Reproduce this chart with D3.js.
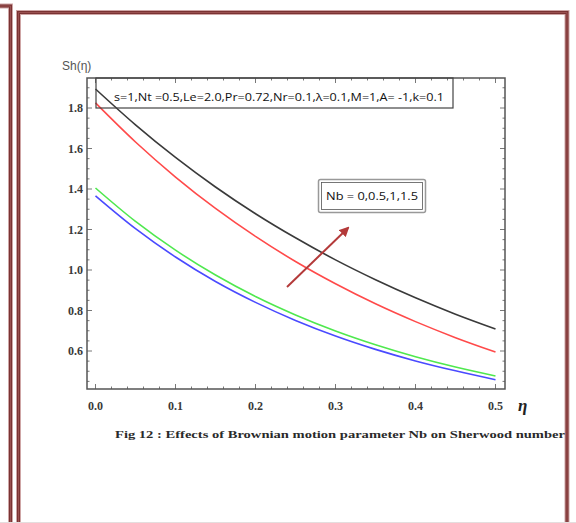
<!DOCTYPE html>
<html><head><meta charset="utf-8">
<script src="https://cdn.jsdelivr.net/npm/d3@7"></script>
<style>html,body{margin:0;padding:0;background:#fff;}svg{display:block;}</style>
</head><body>
<script>
const eta = [0,0.05,0.1,0.15,0.2,0.25,0.3,0.35,0.4,0.45,0.5];
const shNb0  = [1.366,1.204,1.064,0.943,0.840,0.751,0.674,0.608,0.551,0.502,0.458];
const shNb05 = [1.405,1.240,1.098,0.975,0.869,0.778,0.699,0.631,0.572,0.521,0.477];
const shNb1  = [1.825,1.632,1.459,1.304,1.166,1.042,0.932,0.833,0.745,0.666,0.595];
const shNb15 = [1.894,1.717,1.556,1.410,1.278,1.159,1.050,0.952,0.863,0.782,0.709];
const seriesNames = ["Nb=0","Nb=0.5","Nb=1","Nb=1.5"];
const seriesColors = ["#4a4aff","#4fe84f","#ff4a4a","#3a3a3a"];
const xTicks = [0,0.1,0.2,0.3,0.4,0.5];
const xTickLabels = ["0.0","0.1","0.2","0.3","0.4","0.5"];
const yTicks = [0.6,0.8,1.0,1.2,1.4,1.6,1.8];
const yTickLabels = ["0.6","0.8","1.0","1.2","1.4","1.6","1.8"];
const paramText = "s=1,Nt =0.5,Le=2.0,Pr=0.72,Nr=0.1,\u03bb=0.1,M=1,A= -1,k=0.1";
const nbText = "Nb = 0,0.5,1,1.5";
const caption = "Fig 12 : Effects of Brownian motion parameter Nb on Sherwood number";

const W=576,H=523;
const svg=d3.select("body").append("svg").attr("width",W).attr("height",H);

// outer decorative frames
const frameCol="#7a3333";
function frameLine(d){
  svg.append("path").attr("d",d).attr("fill","none").attr("stroke","#cfa6a6").attr("stroke-width",5);
  svg.append("path").attr("d",d).attr("fill","none").attr("stroke",frameCol).attr("stroke-width",3);
  svg.append("path").attr("d",d).attr("fill","none").attr("stroke","#9a5050").attr("stroke-width",1);
}
frameLine("M0,6 H10.5 V530");
frameLine("M18.5,530 V12.5 H567 V530");
svg.append("line").attr("x1",0).attr("x2",W).attr("y1",522.5).attr("y2",522.5).attr("stroke","#e4dede").attr("stroke-width",1);

const x=d3.scaleLinear().domain([0,0.5]).range([95.5,495.5]);
const y=d3.scaleLinear().domain([0.6,1.8]).range([351,108]);
const L=87,R=505,T=78,B=389;

// ticks
const g=svg.append("g");
const minorX=d3.range(0,0.5001,0.02);
const minorY=d3.range(0.45,1.951,0.05);
const tickCol="#555";
minorX.forEach(v=>{
  const major=xTicks.some(t=>Math.abs(t-v)<1e-6);
  const len=major?5:2.5;
  g.append("line").attr("x1",x(v)).attr("x2",x(v)).attr("y1",B).attr("y2",B-len).attr("stroke",tickCol).attr("stroke-width",0.8);
  g.append("line").attr("x1",x(v)).attr("x2",x(v)).attr("y1",T).attr("y2",T+len).attr("stroke",tickCol).attr("stroke-width",0.8);
});
minorY.forEach(v=>{
  const yy=y(v); if(yy<T||yy>B) return;
  const major=yTicks.some(t=>Math.abs(t-v)<1e-6);
  const len=major?5:2.5;
  g.append("line").attr("x1",L).attr("x2",L+len).attr("y1",yy).attr("y2",yy).attr("stroke",tickCol).attr("stroke-width",0.8);
  g.append("line").attr("x1",R).attr("x2",R-len).attr("y1",yy).attr("y2",yy).attr("stroke",tickCol).attr("stroke-width",0.8);
});
// plot frame
svg.append("rect").attr("x",L).attr("y",T).attr("width",R-L).attr("height",B-T).attr("fill","none").attr("stroke","#555").attr("stroke-width",1.5);

// tick labels
xTicks.forEach((v,i)=>{
  svg.append("text").attr("x",x(v)).attr("y",410).attr("text-anchor","middle")
    .attr("font-family","Liberation Serif").attr("font-weight","bold").attr("font-size",12).attr("fill","#3a3a3a").text(xTickLabels[i]);
});
yTicks.forEach((v,i)=>{
  svg.append("text").attr("x",83).attr("y",y(v)+4).attr("text-anchor","end")
    .attr("font-family","Liberation Serif").attr("font-weight","bold").attr("font-size",12).attr("fill","#3a3a3a").text(yTickLabels[i]);
});
svg.append("text").attr("x",62).attr("y",70).attr("font-family","Liberation Sans").attr("font-size",12).attr("fill","#555").text("Sh(\u03b7)");
svg.append("text").attr("x",518).attr("y",411).attr("font-family","Liberation Serif").attr("font-weight","bold").attr("font-style","italic").attr("font-size",17).attr("fill","#222").text("\u03b7");

// curves
const line=d3.line().x((d,i)=>x(eta[i])).y(d=>y(d)).curve(d3.curveCatmullRom);
[shNb0,shNb05,shNb1,shNb15].forEach((s,i)=>{
  svg.append("path").attr("d",line(s)).attr("fill","none").attr("stroke",seriesColors[i]).attr("stroke-width",1.6);
});

// parameter box
svg.append("rect").attr("x",96).attr("y",T).attr("width",357).attr("height",30).attr("fill","none").attr("stroke","#444").attr("stroke-width",1.2);
svg.append("text").attr("x",279).attr("y",101).attr("text-anchor","middle").attr("font-family","Open Sans").attr("font-size",11)
  .attr("textLength",330).attr("lengthAdjust","spacingAndGlyphs").attr("fill","#111").text(paramText);

// Nb label box
svg.append("rect").attr("x",318.5).attr("y",179.5).attr("width",107).attr("height",33).attr("rx",2).attr("fill","#fff").attr("stroke","#999").attr("stroke-width",1.5);
svg.append("rect").attr("x",321.5).attr("y",182.5).attr("width",101).attr("height",27).attr("fill","none").attr("stroke","#555").attr("stroke-width",0.8);
svg.append("text").attr("x",372).attr("y",200).attr("text-anchor","middle").attr("font-family","Open Sans").attr("font-size",10.5)
  .attr("textLength",92).attr("lengthAdjust","spacingAndGlyphs").attr("fill","#111").text(nbText);

// arrow
svg.append("defs").append("marker").attr("id","ah").attr("viewBox","0 0 10 10").attr("refX",8).attr("refY",5)
  .attr("markerWidth",5).attr("markerHeight",5).attr("orient","auto")
  .append("path").attr("d","M0,0 L10,5 L0,10 z").attr("fill","#b43a3a");
svg.append("line").attr("x1",287).attr("y1",287).attr("x2",348).attr("y2",228).attr("stroke","#b43a3a").attr("stroke-width",2).attr("marker-end","url(#ah)");

// caption
svg.append("text").attr("x",115).attr("y",438).attr("font-family","Liberation Serif").attr("font-weight","bold").attr("font-size",11)
  .attr("textLength",450).attr("lengthAdjust","spacingAndGlyphs").attr("fill","#2a2a2a").text(caption);
</script>
</body></html>
